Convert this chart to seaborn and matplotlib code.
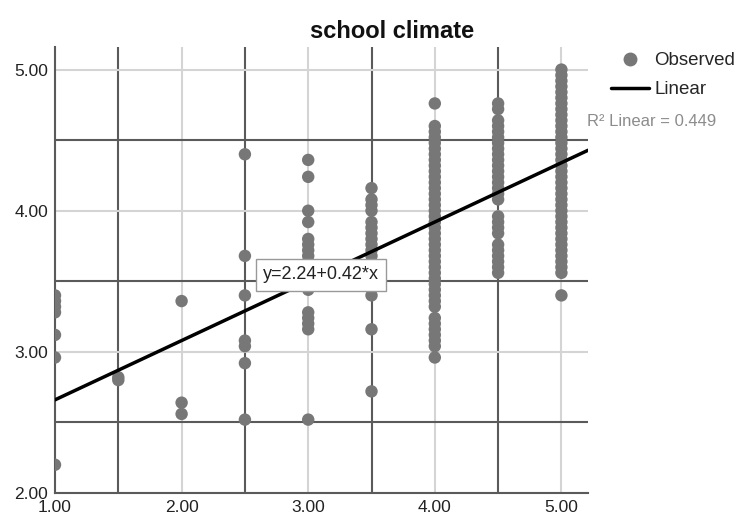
import pandas as pd
import matplotlib.pyplot as plt
import seaborn as sns
from matplotlib.ticker import MultipleLocator
from matplotlib.lines import Line2D

# Datos (x = nivel, y = school climate)
x_levels = [1.0, 1.5, 2.0, 2.5, 3.0, 3.5, 4.0, 4.5, 5.0]
y_100 = [3.40, 3.36, 3.32, 3.28, 3.12, 2.96, 2.20]
y_150 = [2.80, 2.82]
y_200 = [3.36, 2.64, 2.56]
y_250 = [4.40, 3.68, 3.40, 3.08, 3.04, 2.92, 2.52]
y_300 = [4.36, 4.24, 4.00, 3.92, 3.80, 3.76, 3.72, 3.68, 3.64, 3.60, 3.56,
         3.52, 3.48, 3.44, 3.28, 3.24, 3.20, 3.16, 2.52]
y_350 = [4.16, 4.08, 4.04, 4.00, 3.92, 3.88, 3.84, 3.80, 3.76, 3.72, 3.68,
         3.64, 3.56, 3.52, 3.48, 3.40, 3.16, 2.72]
y_400 = [4.76, 4.60, 4.56, 4.52, 4.48, 4.44, 4.40, 4.36, 4.32, 4.28, 4.24,
         4.20, 4.16, 4.12, 4.08, 4.04, 4.00, 3.96, 3.92, 3.88, 3.84, 3.80,
         3.76, 3.72, 3.68, 3.64, 3.60, 3.56, 3.52, 3.48, 3.44, 3.40, 3.36,
         3.32, 3.24, 3.20, 3.16, 3.12, 3.08, 3.04, 2.96]
y_450 = [4.76, 4.72, 4.64, 4.60, 4.56, 4.52, 4.48, 4.44, 4.40, 4.36, 4.32,
         4.28, 4.24, 4.20, 4.16, 4.12, 4.08, 3.96, 3.92, 3.88, 3.84, 3.76,
         3.72, 3.68, 3.64, 3.60, 3.56]
y_500 = [5.00, 4.96, 4.92, 4.88, 4.84, 4.80, 4.76, 4.72, 4.68, 4.64, 4.60,
         4.56, 4.52, 4.48, 4.44, 4.40, 4.36, 4.32, 4.28, 4.24, 4.20, 4.16,
         4.12, 4.08, 4.04, 4.00, 3.96, 3.92, 3.88, 3.84, 3.80, 3.76, 3.72,
         3.68, 3.64, 3.60, 3.56, 3.40]
y_groups = [y_100, y_150, y_200, y_250, y_300, y_350, y_400, y_450, y_500]

# Recta de ajuste (según la etiqueta)
intercept = 2.24
slope = 0.42
r2 = 0.449
line_x = [1.0, 5.21]

df = pd.DataFrame({
    'x': [x for x, ys in zip(x_levels, y_groups) for _ in ys],
    'y': [y for ys in y_groups for y in ys],
})
fit = pd.DataFrame({'x': line_x, 'y': [intercept + slope * v for v in line_x]})

sns.set_style('white')
plt.rcParams['font.family'] = ['Liberation Sans', 'DejaVu Sans']

fig = plt.figure(figsize=(7.39, 5.18), dpi=100)
ax = fig.add_axes([55 / 739, 25 / 518, 533 / 739, 446 / 518])

sns.scatterplot(data=df, x='x', y='y', color='#777777', s=80,
                edgecolor='none', ax=ax, zorder=3)
sns.lineplot(data=fit, x='x', y='y', color='black', linewidth=2.5, ax=ax, zorder=4)

ax.set_xlim(1.0, 5.21)
ax.set_ylim(2.0, 5.16)
ax.xaxis.set_major_locator(MultipleLocator(1))
ax.xaxis.set_minor_locator(MultipleLocator(0.5))
ax.yaxis.set_major_locator(MultipleLocator(1))
ax.yaxis.set_minor_locator(MultipleLocator(0.5))
ax.xaxis.set_major_formatter(lambda v, p: f'{v:.2f}')
ax.yaxis.set_major_formatter(lambda v, p: f'{v:.2f}')
ax.grid(which='major', color='#d4d4d4', linewidth=1.5)
ax.grid(which='minor', color='#5a5a5a', linewidth=1.5)
ax.set_axisbelow(True)
ax.tick_params(which='both', length=0, labelsize=12.5, colors='#222222')
ax.tick_params(axis='x', pad=5)
ax.tick_params(axis='y', pad=5)
ax.set_xlabel('')
ax.set_ylabel('')
for side in ['top', 'right']:
    ax.spines[side].set_visible(False)
for side in ['left', 'bottom']:
    ax.spines[side].set_color('#5a5a5a')
    ax.spines[side].set_linewidth(1.5)

ax.text(3.10, 3.546, f'y={intercept:.2f}+{slope:.2f}*x', ha='center', va='center',
        fontsize=13, color='#222222', zorder=5,
        bbox=dict(facecolor='white', edgecolor='#999999', boxstyle='square,pad=0.4'))

fig.text(392 / 739, 1 - 31 / 518, 'school climate', ha='center', va='center',
         fontsize=17, fontweight='bold', color='#111111')

handles = [
    Line2D([], [], marker='o', linestyle='none', color='#777777', markersize=9),
    Line2D([], [], color='black', linewidth=2.5),
]
fig.legend(handles, ['Observed', 'Linear'], loc='upper left',
           bbox_to_anchor=(611 / 739, 1 - 52 / 518), frameon=False,
           fontsize=13.5, handlelength=2.0, handletextpad=0.3,
           labelspacing=0.65, borderpad=0, borderaxespad=0)
fig.text(587 / 739, 1 - 122 / 518, f'R² Linear = {r2:.3f}', ha='left', va='center',
         fontsize=12, color='#8c8c8c')

fig.savefig('out.png', dpi=100)
